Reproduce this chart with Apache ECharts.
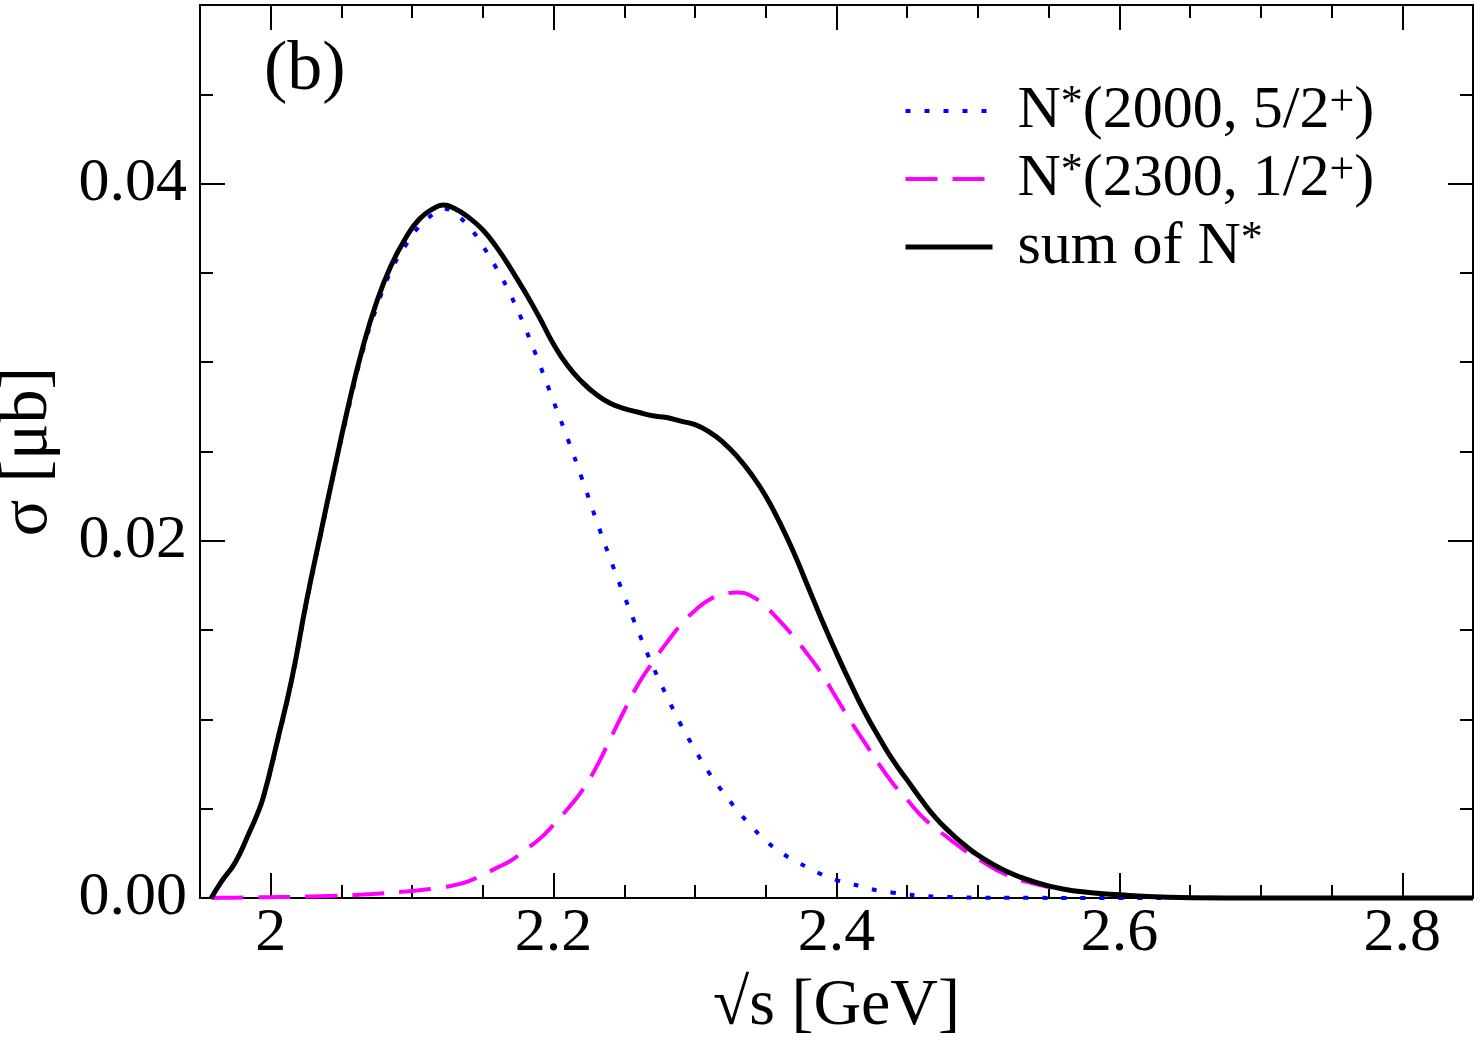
<!DOCTYPE html>
<html>
<head>
<meta charset="utf-8">
<title>sigma vs sqrt(s)</title>
<script src="https://cdn.jsdelivr.net/npm/echarts@6/dist/echarts.min.js"></script>
<style>
  html, body { margin: 0; padding: 0; background: #fff; }
  #chart { width: 1480px; height: 1044px; }
</style>
</head>
<body>
<div id="chart"></div>
<script>
// sqrt(s) in GeV
const sqrtS = [
  1.958, 1.965, 1.975, 1.985, 1.99, 1.995, 2.005, 2.015, 2.025, 2.035, 2.045,
  2.055, 2.065, 2.075, 2.085, 2.095, 2.105, 2.115, 2.122, 2.13, 2.14,
  2.15, 2.16, 2.17, 2.18, 2.19, 2.2, 2.21, 2.22, 2.23, 2.24,
  2.25, 2.26, 2.27, 2.28, 2.29, 2.3, 2.31, 2.32, 2.33, 2.34,
  2.35, 2.36, 2.37, 2.38, 2.39, 2.4, 2.41, 2.42, 2.43, 2.44,
  2.45, 2.46, 2.47, 2.48, 2.49, 2.5, 2.52, 2.54, 2.56, 2.58,
  2.6, 2.62, 2.65, 2.7, 2.75, 2.8, 2.85
]

// sigma [mub], N*(2000, 5/2+)
const sigmaN2000 = [
  0, 0.0009, 0.0020, 0.0037, 0.0046, 0.0057, 0.0088, 0.0122, 0.0164, 0.0202, 0.0239,
  0.0274, 0.0306, 0.0331, 0.0351, 0.0365, 0.0376, 0.0383, 0.0386, 0.0383, 0.0376,
  0.0365, 0.0352, 0.0337, 0.0319, 0.0299, 0.0278, 0.0257, 0.0235, 0.0212, 0.0190,
  0.0169, 0.0149, 0.0130, 0.0113, 0.0097, 0.0083, 0.0070, 0.0059, 0.0049, 0.0040,
  0.0032, 0.0026, 0.0021, 0.0017, 0.0013, 0.0010, 0.0008, 0.0006, 0.0004, 0.0003,
  0.0002, 0.00013, 0.00008, 0.00005, 0.00003, 0.00002, 0.00001, 0.00001, 0, 0,
  0, 0, 0, 0, 0, 0, 0
]

// sigma [mub], N*(2300, 1/2+)
const sigmaN2300 = [
  0, 0.00001, 0.00002, 0.00003, 0.000035, 0.00004, 0.00005, 0.00006, 0.00008, 0.0001, 0.00012,
  0.00015, 0.00019, 0.00024, 0.0003, 0.00036, 0.00043, 0.00052, 0.0006, 0.00072, 0.00095,
  0.0013, 0.0017, 0.0021, 0.0027, 0.0033, 0.0041, 0.0050, 0.0060, 0.0073, 0.0089,
  0.0105, 0.0120, 0.0132, 0.0143, 0.0153, 0.0161, 0.0167, 0.0170, 0.0171, 0.0169,
  0.0163, 0.0155, 0.0146, 0.0136, 0.0125, 0.0112, 0.0099, 0.0087, 0.0075, 0.0064,
  0.0055, 0.0046, 0.0039, 0.0033, 0.0027, 0.0022, 0.0013, 0.0008, 0.0005, 0.0003,
  0.00017, 0.00008, 0.00002, 0, 0, 0, 0
]

// sigma [mub], sum of N*
const sigmaSum = [
  0, 0.0009, 0.0020, 0.0037, 0.0046, 0.0057, 0.0089, 0.0123, 0.0165, 0.0203, 0.0240,
  0.0276, 0.0308, 0.0334, 0.0354, 0.0369, 0.0380, 0.0386, 0.0388, 0.0386, 0.0381,
  0.0374, 0.0364, 0.0352, 0.0339, 0.0325, 0.0310, 0.0298, 0.0289, 0.0282, 0.0277,
  0.0274, 0.0272, 0.0270, 0.0269, 0.0267, 0.0265, 0.0261, 0.0255, 0.0247, 0.0237,
  0.0225, 0.0210, 0.0193, 0.0174, 0.0155, 0.0137, 0.0120, 0.0104, 0.0090, 0.0077,
  0.0066, 0.0055, 0.0045, 0.0037, 0.0030, 0.0024, 0.0015, 0.0009, 0.0005, 0.0003,
  0.00018, 0.00008, 0.00002, 0, 0, 0, 0
]

// x tick positions (every 0.05), long ticks on multiples of 0.2
const xTickVals = [
  '1.95', '2.00', '2.05', '2.10', '2.15', '2.20', '2.25', '2.30', '2.35', '2.40',
  '2.45', '2.50', '2.55', '2.60', '2.65', '2.70', '2.75', '2.80', '2.85'
]

const seriesNames = ['N*(2000, 5/2+)', 'N*(2300, 1/2+)', 'sum of N*']
const legendText = {
  'N*(2000, 5/2+)': 'N{star|*}(2000, 5/2{sup|+})',
  'N*(2300, 1/2+)': 'N{star|*}(2300, 1/2{sup|+})',
  'sum of N*': 'sum of N{star|*}'
}

const FONT = "'Liberation Serif', 'DejaVu Serif', serif"

const isMajorX = (v) => Math.abs(v * 5 - Math.round(v * 5)) < 1e-6
const isMajorY = (v) => Math.round(v * 1000) % 20 === 0

const chart = echarts.init(document.getElementById('chart'))

const minorTick = (len) => ({ show: true, inside: true, length: len, lineStyle: { color: '#000', width: 2 } })
const frameLine = { show: true, onZero: false, lineStyle: { color: '#000', width: 2 } }

const pairs = (ys) => sqrtS.map((x, i) => [x, ys[i]])

const option = {
  backgroundColor: '#fff',
  animation: false,
  grid: { left: 200, right: 7, top: 5, bottom: 146, containLabel: false, outerBoundsMode: 'none' },
  xAxis: [
    {
      type: 'value', position: 'bottom', min: 1.95, max: 2.85, interval: 0.05,
      axisLine: frameLine,
      axisTick: minorTick(13),
      splitLine: { show: false },
      axisLabel: {
        margin: 5, fontFamily: FONT, fontSize: 62, color: '#000',
        showMinLabel: true, showMaxLabel: true,
        formatter: (v) => isMajorX(v) ? String(+v.toFixed(1)) : ''
      },
      name: '√s [GeV]', nameLocation: 'middle', nameGap: 76,
      nameTextStyle: { fontFamily: FONT, fontSize: 66, color: '#000' }
    },
    {
      type: 'category', position: 'bottom', boundaryGap: false, data: xTickVals,
      axisLine: { show: false, onZero: false },
      axisTick: { show: true, inside: true, length: 25, lineStyle: { color: '#000', width: 2 }, interval: (i, v) => isMajorX(parseFloat(v)) },
      axisLabel: { show: false }, splitLine: { show: false }
    },
    {
      type: 'value', position: 'top', min: 1.95, max: 2.85, interval: 0.05,
      axisLine: frameLine, axisTick: minorTick(13),
      axisLabel: { show: false }, splitLine: { show: false }
    },
    {
      type: 'category', position: 'top', boundaryGap: false, data: xTickVals,
      axisLine: { show: false, onZero: false },
      axisTick: { show: true, inside: true, length: 25, lineStyle: { color: '#000', width: 2 }, interval: (i, v) => isMajorX(parseFloat(v)) },
      axisLabel: { show: false }, splitLine: { show: false }
    }
  ],
  yAxis: [
    {
      type: 'value', position: 'left', min: 0, max: 0.05, interval: 0.005,
      axisLine: frameLine, axisTick: minorTick(13), splitLine: { show: false },
      axisLabel: {
        margin: 13, fontFamily: FONT, fontSize: 62, color: '#000',
        formatter: (v) => isMajorY(v) ? v.toFixed(2) : ''
      },
      name: 'σ [μb]', nameLocation: 'middle', nameGap: 138, nameRotate: 90,
      nameTextStyle: { fontFamily: FONT, fontSize: 68, color: '#000' }
    },
    {
      type: 'value', position: 'left', min: 0, max: 0.05, interval: 0.02,
      axisLine: { show: false, onZero: false }, axisTick: minorTick(25),
      axisLabel: { show: false }, splitLine: { show: false }
    },
    {
      type: 'value', position: 'right', min: 0, max: 0.05, interval: 0.005,
      axisLine: frameLine, axisTick: minorTick(13),
      axisLabel: { show: false }, splitLine: { show: false }
    },
    {
      type: 'value', position: 'right', min: 0, max: 0.05, interval: 0.02,
      axisLine: { show: false, onZero: false }, axisTick: minorTick(25),
      axisLabel: { show: false }, splitLine: { show: false }
    }
  ],
  legend: {
    orient: 'vertical', left: 903, top: 81, padding: 0, itemGap: 8,
    itemWidth: 87, itemHeight: 20, selectedMode: false,
    itemStyle: { opacity: 0 },
    data: [
      { name: seriesNames[0], lineStyle: { width: 4 } },
      { name: seriesNames[1], lineStyle: { width: 4 } },
      { name: seriesNames[2], lineStyle: { width: 5 } }
    ],
    formatter: (name) => legendText[name],
    textStyle: {
      fontFamily: FONT, fontSize: 60, lineHeight: 60, color: '#000', padding: [0, 0, 0, 20],
      rich: {
        star: { fontFamily: FONT, fontSize: 44, lineHeight: 46, verticalAlign: 'top', color: '#000' },
        sup: { fontFamily: FONT, fontSize: 44, lineHeight: 34, verticalAlign: 'top', color: '#000' }
      }
    }
  },
  graphic: [
    {
      type: 'text', left: 264, top: 36,
      style: { text: '(b)', font: '70px ' + FONT, fill: '#000' }
    }
  ],
  series: [
    {
      name: seriesNames[0], type: 'line', data: pairs(sigmaN2000),
      xAxisIndex: 0, yAxisIndex: 0, smooth: 0.5,
      showSymbol: false, symbol: 'none', clip: false,
      lineStyle: { color: '#0000ff', width: 4, type: [5, 14], cap: 'butt' },
      itemStyle: { color: '#0000ff' }
    },
    {
      name: seriesNames[1], type: 'line', data: pairs(sigmaN2300),
      xAxisIndex: 0, yAxisIndex: 0, smooth: 0.5,
      showSymbol: false, symbol: 'none', clip: false,
      lineStyle: { color: '#ff00ff', width: 4, type: [32, 15], cap: 'butt' },
      itemStyle: { color: '#ff00ff' }
    },
    {
      name: seriesNames[2], type: 'line', data: pairs(sigmaSum),
      xAxisIndex: 0, yAxisIndex: 0, smooth: 0.5,
      showSymbol: false, symbol: 'none', clip: false,
      lineStyle: { color: '#000', width: 5 },
      itemStyle: { color: '#000' }
    }
  ]
}

chart.setOption(option)
</script>
</body>
</html>
